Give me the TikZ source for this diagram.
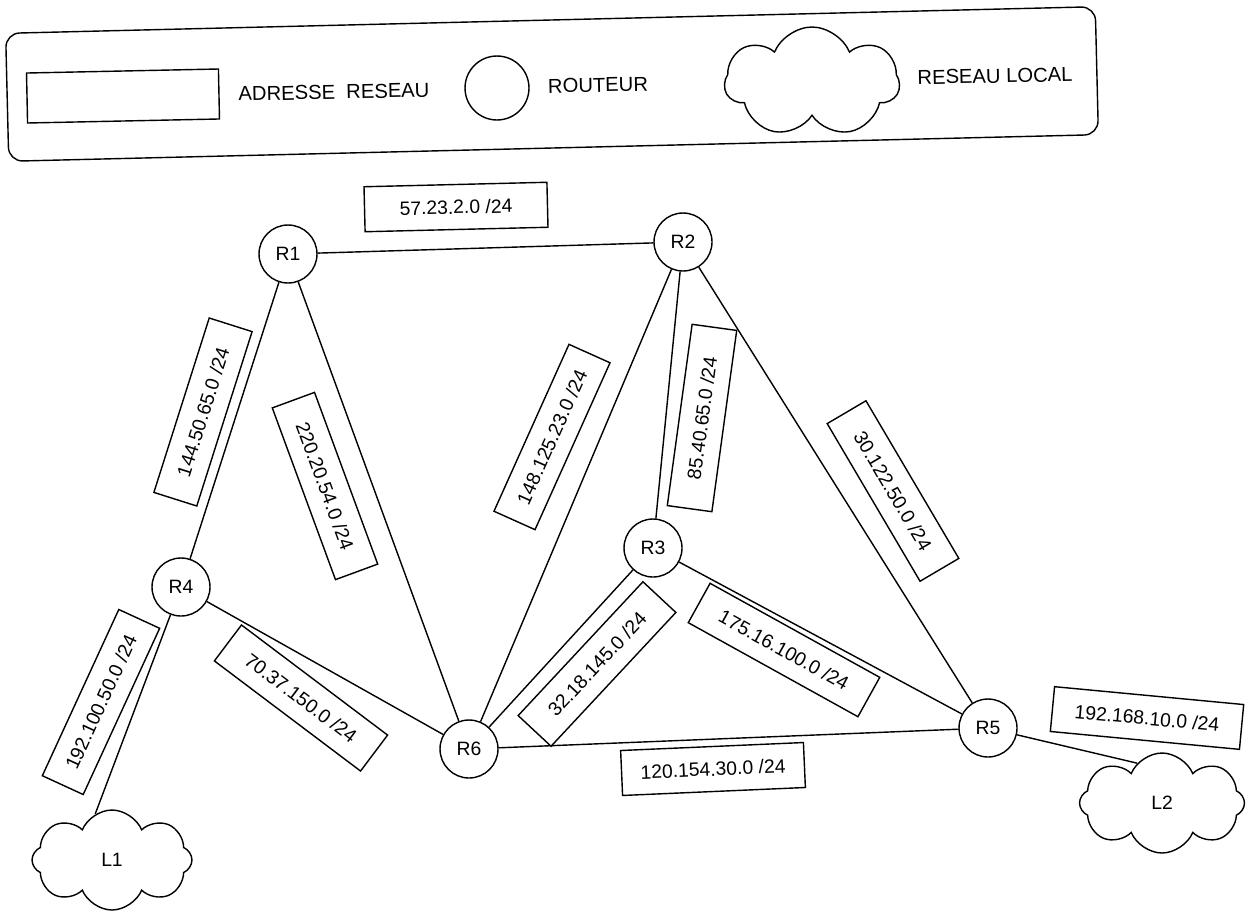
\documentclass[tikz,border=0pt]{standalone}
\usepackage{fontspec}
\setmainfont{Liberation Sans}
\usetikzlibrary{shapes.symbols}

\begin{document}
\begin{tikzpicture}[
			x=0.02cm, y=-0.02cm,
			line width=0.8pt,
			router/.style={
					draw,
					circle,
					inner sep=0pt,
					minimum size=1.16cm,
					font=\fontsize{11}{13}\selectfont
				},
			netaddr/.style={
					draw,
					inner sep=0pt,
					minimum width=3.66cm,
					minimum height=0.9cm,
					font=\fontsize{11}{13}\selectfont
				},
			lan/.style={
					draw,
					cloud,
					cloud puffs=8,
					cloud puff arc=135,
					aspect=1.6,
					inner sep=0pt,
					font=\fontsize{11}{13}\selectfont
				},
			legendtext/.style={font=\fontsize{11.5}{14}\selectfont}
		]

		\useasboundingbox (0,0) rectangle (1250,910);

		% legend
		\draw[rounded corners=8pt, rotate around={1.4:(552,84)}]
		(7,20) rectangle (1097,148);

		\node (legaddr) [draw, rotate=1.2, minimum width=3.84cm,
			minimum height=1cm] at (123,96) {};
		\node (legaddrtxt) [legendtext, rotate=1.2] at (334,92)
		{ADRESSE\ \ RESEAU};

		\node (legrouter) [draw, circle, minimum size=1.28cm] at (497,88) {};
		\node (legroutertxt) [legendtext, rotate=1.2] at (598,85) {ROUTEUR};

		\node (leglan) [lan, cloud puffs=7, minimum width=3.5cm,
			minimum height=2.2cm] at (812,82) {};
		\node (leglantxt) [legendtext, rotate=1.2] at (995,76) {RESEAU LOCAL};

		% routers
		\node (R1) [router] at (288,254) {R1};
		\node (R2) [router] at (683,242) {R2};
		\node (R3) [router] at (653,548) {R3};
		\node (R4) [router] at (181,587) {R4};
		\node (R5) [router] at (988,728) {R5};
		\node (R6) [router] at (469,749) {R6};

		% local networks
		\node (L1) [lan, minimum width=3.2cm, minimum height=2cm]
		at (112,860) {L1};
		\node (L2) [lan, minimum width=3.3cm, minimum height=2cm]
		at (1162,803) {L2};

		% links
		\foreach \a/\b in {R1/R2, R1/R4, R1/R6, R2/R6, R2/R3, R2/R5,
				R3/R6, R3/R5, R4/R6, R6/R5}
		\draw (\a) -- (\b);
		\draw (R4) -- (L1.110);
		\draw (R5) -- (L2.122);

		% network addresses
		\node (n57) [netaddr, rotate=1.4] at (456,207) {57.23.2.0 /24};
		\node (n144) [netaddr, rotate=72.4] at (203,412) {144.50.65.0 /24};
		\node (n220) [netaddr, rotate=-69.8] at (325,486) {220.20.54.0 /24};
		\node (n192a) [netaddr, rotate=65.3] at (101,702) {192.100.50.0 /24};
		\node (n70) [netaddr, rotate=-37] at (301,698) {70.37.150.0 /24};
		\node (n148) [netaddr, rotate=65.8] at (552,437) {148.125.23.0 /24};
		\node (n85) [netaddr, rotate=82.2] at (702,418) {85.40.65.0 /24};
		\node (n30) [netaddr, rotate=-59.5] at (893,491) {30.122.50.0 /24};
		\node (n32) [netaddr, rotate=47] at (597,664) {32.18.145.0 /24};
		\node (n175) [netaddr, rotate=-29, minimum width=3.88cm]
		at (784,650) {175.16.100.0 /24};
		\node (n120) [netaddr, rotate=2.5] at (713,769) {120.154.30.0 /24};
		\node (n192b) [netaddr, rotate=-5.4, minimum width=3.8cm]
		at (1147,718) {192.168.10.0 /24};

	\end{tikzpicture}
\end{document}
